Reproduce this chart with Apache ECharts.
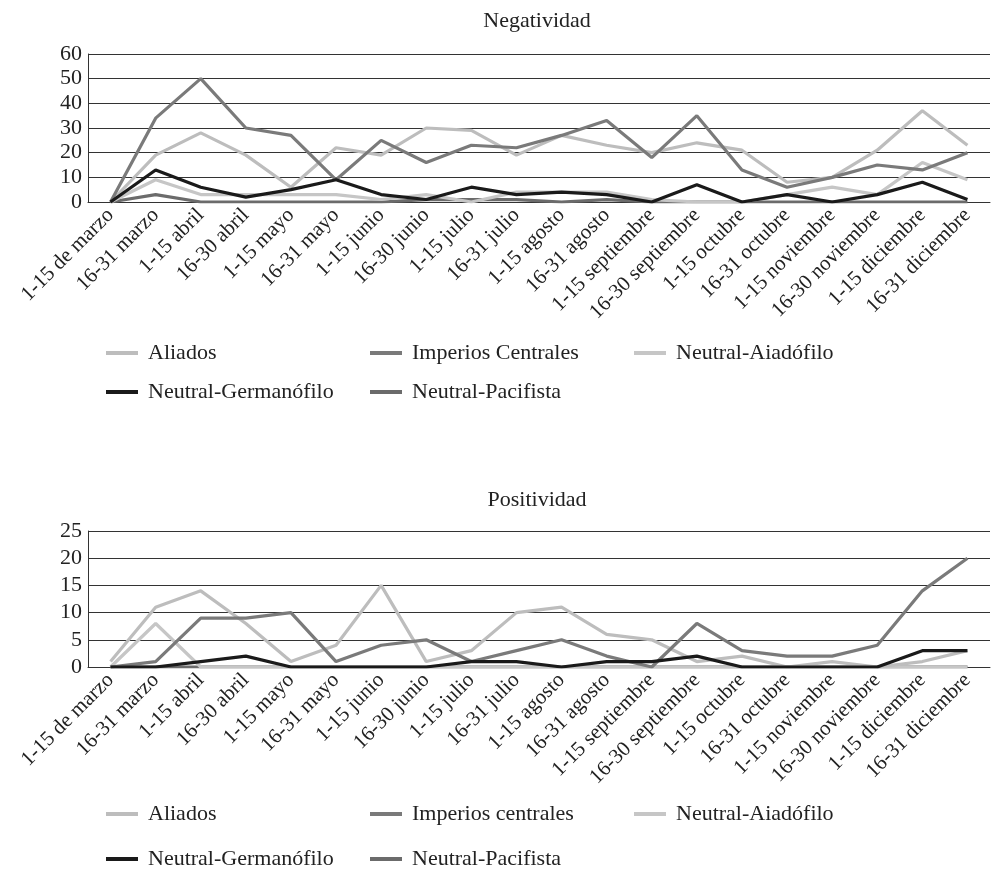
<!DOCTYPE html>
<html>
<head>
<meta charset="utf-8">
<script src="https://cdn.jsdelivr.net/npm/echarts@6/dist/echarts.min.js"></script>
<style>
  html, body { margin: 0; padding: 0; background: #fff; }
  #chart { width: 993px; height: 892px; }
</style>
</head>
<body>
<div id="chart"></div>
<script>
// Fortnightly periods, March to December
const periods = [
  '1-15 de marzo', '16-31 marzo', '1-15 abril', '16-30 abril', '1-15 mayo',
  '16-31 mayo', '1-15 junio', '16-30 junio', '1-15 julio', '16-31 julio',
  '1-15 agosto', '16-31 agosto', '1-15 septiembre', '16-30 septiembre',
  '1-15 octubre', '16-31 octubre', '1-15 noviembre', '16-30 noviembre',
  '1-15 diciembre', '16-31 diciembre'
];

// Negatividad
const aliadosNeg      = [0, 19, 28, 19, 6, 22, 19, 30, 29, 19, 27, 23, 20, 24, 21, 8, 10, 21, 37, 23];
const imperiosNeg     = [0, 34, 50, 30, 27, 9, 25, 16, 23, 22, 27, 33, 18, 35, 13, 6, 10, 15, 13, 20];
const aliadofiloNeg   = [0, 9, 3, 3, 3, 3, 1, 3, 0, 4, 4, 4, 1, 0, 0, 3, 6, 3, 16, 9];
const germanofiloNeg  = [0, 13, 6, 2, 5, 9, 3, 1, 6, 3, 4, 3, 0, 7, 0, 3, 0, 3, 8, 1];
const pacifistaNeg    = [0, 3, 0, 0, 0, 0, 0, 1, 1, 1, 0, 1, 0, 0, 0, 0, 0, 0, 0, 0];

// Positividad
const aliadosPos      = [1, 11, 14, 8, 1, 4, 15, 1, 3, 10, 11, 6, 5, 1, 2, 0, 1, 0, 1, 3];
const imperiosPos     = [0, 1, 9, 9, 10, 1, 4, 5, 1, 3, 5, 2, 0, 8, 3, 2, 2, 4, 14, 20];
const aliadofiloPos   = [0, 8, 0, 0, 0, 0, 0, 0, 0, 0, 0, 0, 0, 0, 0, 0, 0, 0, 0, 0];
const germanofiloPos  = [0, 0, 1, 2, 0, 0, 0, 0, 1, 1, 0, 1, 1, 2, 0, 0, 0, 0, 3, 3];
const pacifistaPos    = [0, 0, 0, 0, 0, 0, 0, 0, 0, 0, 0, 0, 0, 0, 0, 0, 0, 0, 0, 0];

const negNames = ['Aliados', 'Imperios Centrales', 'Neutral-Aiadófilo', 'Neutral-Germanófilo', 'Neutral-Pacifista'];
const posNames = ['Aliados', 'Imperios centrales', 'Neutral-Aiadófilo', 'Neutral-Germanófilo', 'Neutral-Pacifista'];
const negTicks = [0, 10, 20, 30, 40, 50, 60];
const posTicks = [0, 5, 10, 15, 20, 25];

const colors = ['#bdbdbd', '#7a7a7a', '#c6c6c6', '#1a1a1a', '#6b6b6b'];
const FONT = '"Liberation Serif", "Times New Roman", serif';
const TXT = '#222';

const chart = echarts.init(document.getElementById('chart'), null, { renderer: 'canvas' });

function xAxis(gridIndex) {
  return {
    type: 'category', gridIndex, data: periods, boundaryGap: true,
    axisLine: { show: true, lineStyle: { color: '#333', width: 1 } },
    axisTick: { show: false },
    axisLabel: { rotate: 45, interval: 0, margin: 10, fontFamily: FONT, fontSize: 21, color: TXT }
  };
}
function yAxis(gridIndex, ticks) {
  return {
    type: 'value', gridIndex, min: ticks[0], max: ticks[ticks.length - 1],
    interval: ticks[1] - ticks[0],
    axisLine: { show: true, lineStyle: { color: '#333', width: 1 } },
    axisTick: { show: false },
    splitLine: { show: true, lineStyle: { color: '#333', width: 1 } },
    axisLabel: { margin: 6, fontFamily: FONT, fontSize: 22, color: TXT }
  };
}
function lines(names, arrays, axisIndex, zBase) {
  return names.map((n, i) => ({
    name: n, type: 'line', xAxisIndex: axisIndex, yAxisIndex: axisIndex,
    data: arrays[i], symbol: 'none', smooth: false,
    lineStyle: { color: colors[i], width: 3.2 }, itemStyle: { color: colors[i] },
    z: zBase + [3, 4, 2, 5, 1][i], animation: false
  }));
}
function legendAt(name, left, top) {
  return {
    data: [name], left, top, icon: 'rect', itemWidth: 32, itemHeight: 4, itemGap: 0,
    textStyle: { fontFamily: FONT, fontSize: 22, color: TXT, padding: [0, 0, 0, 5] },
    selectedMode: false
  };
}

const legendCols = [101, 365, 629];

chart.setOption({
  backgroundColor: '#fff',
  animation: false,
  title: [
    { text: 'Negatividad', left: 532, top: 5, textAlign: 'center',
      textStyle: { fontFamily: FONT, fontSize: 22, fontWeight: 'normal', color: TXT } },
    { text: 'Positividad', left: 532, top: 484, textAlign: 'center',
      textStyle: { fontFamily: FONT, fontSize: 22, fontWeight: 'normal', color: TXT } }
  ],
  grid: [
    { left: 88, right: 3, top: 54, height: 148 },
    { left: 88, right: 3, top: 531, height: 136 }
  ],
  xAxis: [xAxis(0), xAxis(1)],
  yAxis: [yAxis(0, negTicks), yAxis(1, posTicks)],
  legend: [
    legendAt(negNames[0], legendCols[0], 337),
    legendAt(negNames[1], legendCols[1], 337),
    legendAt(negNames[2], legendCols[2], 337),
    legendAt(negNames[3], legendCols[0], 376),
    legendAt(negNames[4], legendCols[1], 376),
    legendAt(posNames[0], legendCols[0], 798),
    legendAt(posNames[1], legendCols[1], 798),
    legendAt(posNames[2], legendCols[2], 798),
    legendAt(posNames[3], legendCols[0], 843),
    legendAt(posNames[4], legendCols[1], 843)
  ],
  series: [
    ...lines(negNames, [aliadosNeg, imperiosNeg, aliadofiloNeg, germanofiloNeg, pacifistaNeg], 0, 10),
    ...lines(posNames, [aliadosPos, imperiosPos, aliadofiloPos, germanofiloPos, pacifistaPos], 1, 10)
  ]
});
</script>
</body>
</html>
